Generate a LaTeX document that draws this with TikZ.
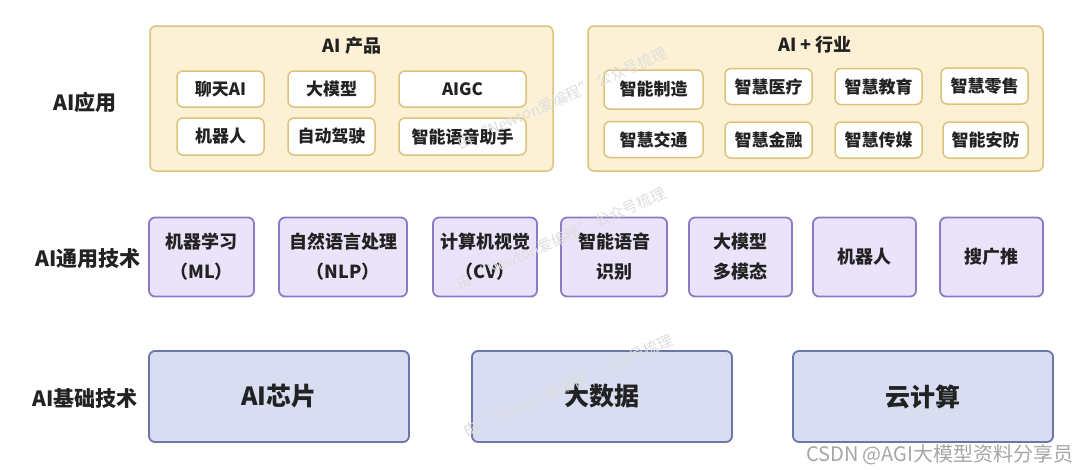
\documentclass[tikz,border=0pt]{standalone}
\usepackage{fontspec}
\setmainfont{Noto Sans CJK SC}
\definecolor{yfill}{HTML}{FCF1D4}
\definecolor{ybord}{HTML}{DCC27A}
\definecolor{pfill}{HTML}{EAE3FA}
\definecolor{pbord}{HTML}{8C7BC4}
\definecolor{bfill}{HTML}{D8DDF2}
\definecolor{bbord}{HTML}{6B76AA}
\definecolor{txt}{HTML}{222222}
\tikzset{
  outerY/.style={draw=ybord, fill=yfill, rounded corners=6pt, line width=1.5pt},
  innerY/.style={draw=ybord, fill=white, rounded corners=6pt, line width=1.5pt, text=txt, font=\bfseries\fontsize{17}{20}\selectfont},
  ttl/.style={text=txt, font=\bfseries\fontsize{18}{21}\selectfont},
  pbox/.style={draw=pbord, fill=pfill, rounded corners=6pt, line width=1.8pt, align=center, text=txt, minimum height=79pt, font=\bfseries\fontsize{18}{30}\selectfont},
  bbox/.style={draw=bbord, fill=bfill, rounded corners=6pt, line width=1.8pt, text=txt, minimum width=260pt, minimum height=91pt, font=\bfseries\fontsize{25}{29}\selectfont},
  lab/.style={text=txt, font=\bfseries\fontsize{21}{24}\selectfont},
  wm/.style={text=black!13, rotate=24, font=\fontsize{15}{18}\selectfont},
  csdn/.style={text=black!35, font=\fontsize{20}{24}\selectfont}
}
\begin{document}
\begin{tikzpicture}[x=1pt,y=-1pt]
\useasboundingbox[fill=white] (0,0) rectangle (1080,469);

% row labels
\node[lab] (l1) at (85,102) {AI应用};
\node[lab] (l2) at (88,259) {AI通用技术};
\node[lab] (l3) at (85,399) {AI基础技术};

% AI products
\node[outerY, minimum width=403pt, minimum height=145pt] (prod) at (351.5,98.5) {};
\node[ttl] (prodt) at (352,46) {AI 产品};
\node[innerY, minimum width=87pt, minimum height=36pt] (p1) at (220.5,89) {聊天AI};
\node[innerY, minimum width=87pt, minimum height=36pt] (p2) at (331.5,89) {大模型};
\node[innerY, minimum width=127pt, minimum height=36pt] (p3) at (462.5,89) {AIGC};
\node[innerY, minimum width=87pt, minimum height=37pt] (p4) at (220.5,136.5) {机器人};
\node[innerY, minimum width=87pt, minimum height=37pt] (p5) at (331.5,136.5) {自动驾驶};
\node[innerY, minimum width=127pt, minimum height=37pt] (p6) at (462.5,136.5) {智能语音助手};

% AI + industry
\node[outerY, minimum width=455pt, minimum height=145pt] (ind) at (815.5,98.5) {};
\node[ttl] (indt) at (815,45) {AI + 行业};
\node[innerY, minimum width=99pt, minimum height=39pt] (i1) at (653.5,89.5) {智能制造};
\node[innerY, minimum width=87pt, minimum height=36pt] (i2) at (768.5,86.5) {智慧医疗};
\node[innerY, minimum width=87pt, minimum height=36pt] (i3) at (878.5,86.5) {智慧教育};
\node[innerY, minimum width=87pt, minimum height=36pt] (i4) at (984.5,86) {智慧零售};
\node[innerY, minimum width=99pt, minimum height=36pt] (i5) at (653.5,139.5) {智慧交通};
\node[innerY, minimum width=87pt, minimum height=36pt] (i6) at (768.5,140) {智慧金融};
\node[innerY, minimum width=87pt, minimum height=36pt] (i7) at (878.5,140) {智慧传媒};
\node[innerY, minimum width=85pt, minimum height=36pt] (i8) at (985.5,140) {智能安防};

% general technology
\node[pbox, minimum width=105pt] (g1) at (201.5,257) {机器学习\\（ML）};
\node[pbox, minimum width=128pt] (g2) at (343,257) {自然语言处理\\（NLP）};
\node[pbox, minimum width=104pt] (g3) at (485,257) {计算机视觉\\（CV）};
\node[pbox, minimum width=106pt] (g4) at (614,257) {智能语音\\识别};
\node[pbox, minimum width=103pt] (g5) at (740.5,257) {大模型\\多模态};
\node[pbox, minimum width=103pt] (g6) at (864.5,257) {机器人};
\node[pbox, minimum width=103pt] (g7) at (991.5,257) {搜广推};

% foundation technology
\node[bbox] (b1) at (279,396.5) {AI芯片};
\node[bbox] (b2) at (602,396.5) {大数据};
\node[bbox] (b3) at (923,396.5) {云计算};

% watermarks
\node[wm] (w1) at (562,98) {由 “Newton爱编程” 公众号梳理};
\node[wm] (w2) at (561,238) {由 “Newton爱编程” 公众号梳理};
\node[wm] (w3) at (568,385) {由 “Newton爱编程” 公众号梳理};
\node[csdn, anchor=east] (cs) at (1077,455) {CSDN @AGI大模型资料分享员};
\end{tikzpicture}
\end{document}
